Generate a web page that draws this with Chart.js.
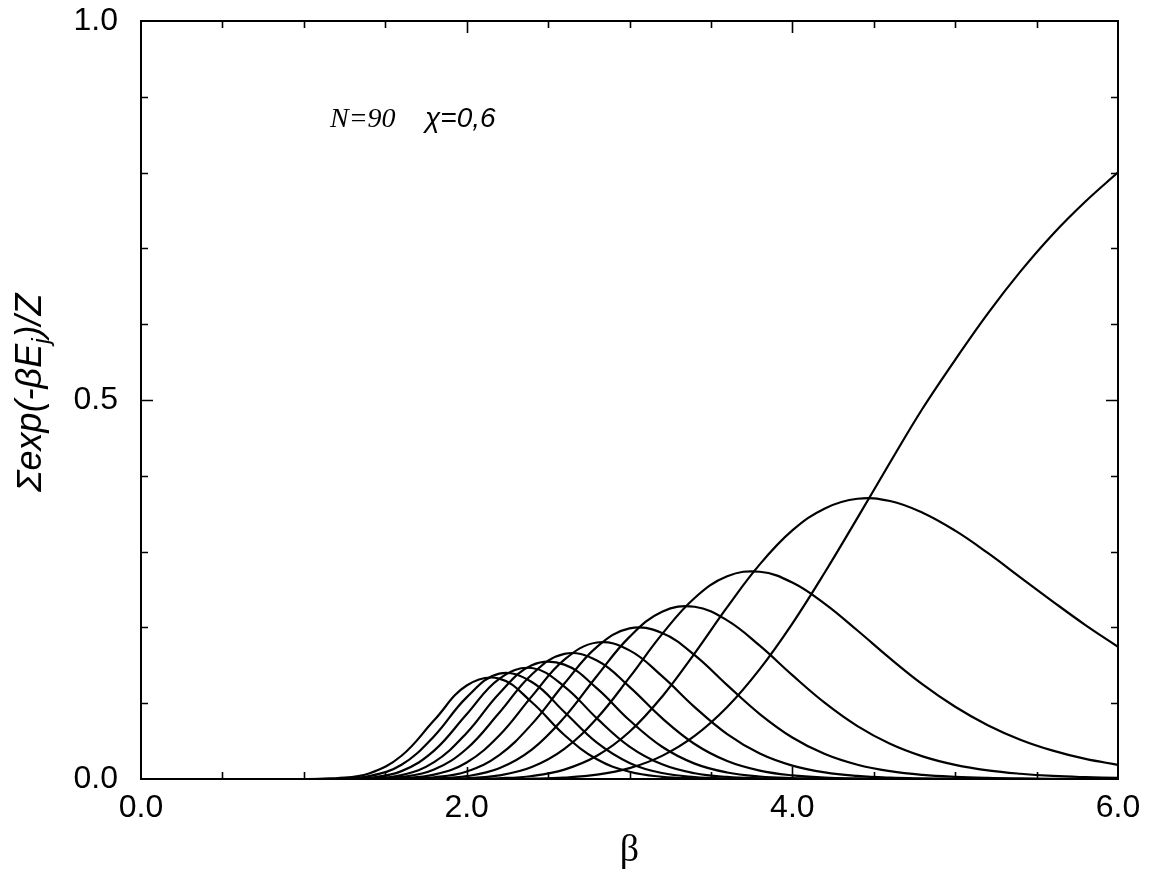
<!DOCTYPE html>
<html>
<head>
<meta charset="utf-8">
<script src="https://cdn.jsdelivr.net/npm/chart.js@4/dist/chart.umd.min.js"></script>
<style>
html,body{margin:0;padding:0;background:#fff;}
canvas{display:block;}
</style>
</head>
<body>
<canvas id="c" width="1149" height="882"></canvas>
<script>
// beta grid (x values)
const beta = [0, 1.0, 1.2, 1.4, 1.6, 1.8, 2.0, 2.2, 2.4, 2.6, 2.8, 3.0, 3.2, 3.4, 3.6, 3.8, 4.0, 4.2, 4.4, 4.6, 4.8, 5.0, 5.2, 5.4, 5.6, 5.8, 6.0];

// Sum exp(-beta E_j)/Z for each level j
const level10 = [0, 0, 0.0010, 0.0072, 0.0307, 0.0774, 0.1233, 0.1325, 0.1013, 0.0581, 0.0260, 0.0095, 0.0029, 0.0008, 0.0002, 0, 0, 0, 0, 0, 0, 0, 0, 0, 0, 0, 0];
const level9  = [0, 0, 0.0004, 0.0037, 0.0188, 0.0565, 0.1077, 0.1390, 0.1280, 0.0884, 0.0479, 0.0212, 0.0079, 0.0026, 0.0007, 0.0002, 0, 0, 0, 0, 0, 0, 0, 0, 0, 0, 0];
const level8  = [0, 0, 0.0001, 0.0017, 0.0104, 0.0374, 0.0854, 0.1322, 0.1464, 0.1220, 0.0800, 0.0428, 0.0194, 0.0076, 0.0027, 0.0009, 0.0003, 0, 0, 0, 0, 0, 0, 0, 0, 0, 0];
const level7  = [0, 0, 0, 0.0007, 0.0052, 0.0222, 0.0607, 0.1128, 0.1502, 0.1509, 0.1195, 0.0775, 0.0425, 0.0203, 0.0086, 0.0033, 0.0012, 0.0004, 0, 0, 0, 0, 0, 0, 0, 0, 0];
const level6  = [0, 0, 0, 0.0003, 0.0025, 0.0124, 0.0399, 0.0873, 0.1379, 0.1651, 0.1563, 0.1216, 0.0803, 0.0462, 0.0237, 0.0111, 0.0048, 0.0019, 0.0008, 0.0003, 0, 0, 0, 0, 0, 0, 0];
const level5  = [0, 0, 0, 0.0001, 0.0010, 0.0057, 0.0218, 0.0574, 0.1090, 0.1574, 0.1801, 0.1697, 0.1357, 0.0949, 0.0592, 0.0336, 0.0177, 0.0087, 0.0041, 0.0018, 0.0008, 0.0003, 0, 0, 0, 0, 0];
const level4  = [0, 0, 0, 0, 0.0003, 0.0022, 0.0100, 0.0316, 0.0724, 0.1259, 0.1743, 0.1987, 0.1926, 0.1635, 0.1239, 0.0857, 0.0548, 0.0329, 0.0188, 0.0103, 0.0054, 0.0028, 0.0014, 0.0007, 0.0003, 0.0002, 0.0001];
const level3  = [0, 0, 0, 0, 0.0001, 0.0007, 0.0037, 0.0141, 0.0387, 0.0813, 0.1359, 0.1875, 0.2207, 0.2272, 0.2093, 0.1759, 0.1370, 0.1004, 0.0698, 0.0465, 0.0299, 0.0187, 0.0114, 0.0069, 0.0040, 0.0024, 0.0014];
const level2  = [0, 0, 0, 0, 0, 0.0002, 0.0010, 0.0047, 0.0157, 0.0397, 0.0802, 0.1340, 0.1911, 0.2388, 0.2674, 0.2734, 0.2592, 0.2311, 0.1959, 0.1591, 0.1248, 0.0953, 0.0710, 0.0519, 0.0374, 0.0265, 0.0187];
const level1  = [0, 0, 0, 0, 0, 0, 0.0002, 0.0010, 0.0040, 0.0124, 0.0306, 0.0623, 0.1086, 0.1658, 0.2267, 0.2831, 0.3279, 0.3570, 0.3697, 0.3667, 0.3513, 0.3276, 0.2982, 0.2661, 0.2341, 0.2031, 0.1745];
const level0  = [0, 0, 0, 0, 0, 0, 0, 0.0001, 0.0005, 0.0019, 0.0057, 0.0143, 0.0305, 0.0568, 0.0949, 0.1449, 0.2050, 0.2727, 0.3445, 0.4175, 0.4888, 0.5530, 0.6140, 0.6693, 0.7187, 0.7618, 0.8003];

// axis ticks
const xLabelTicks = [0, 2, 4, 6];
const xMarkTicks = [0.5, 1, 1.5, 2, 2.5, 3, 3.5, 4, 4.5, 5, 5.5];
const yLabelTicks = [0, 0.5, 1.0];
const yMarkTicks = [0.1, 0.2, 0.3, 0.4, 0.5, 0.6, 0.7, 0.8, 0.9];

// texts
const xTitle = 'β';
const yTitleMain = 'Σexp(-βE';
const yTitleSub = 'j';
const yTitleEnd = ')/Z';
const noteN = 'N=90';
const noteChi = 'χ=0,6';

const levels = [level10, level9, level8, level7, level6, level5, level4, level3, level2, level1, level0];

const datasets = levels.map(vals => ({
  data: vals.map((v, i) => ({x: beta[i], y: v})),
  borderColor: '#000',
  borderWidth: 2.2,
  pointRadius: 0,
  fill: false,
  tension: 0.4
}));

const decorations = {
  id: 'decorations',
  afterDraw(chart) {
    const {ctx, chartArea: a, scales: {x, y}} = chart;
    ctx.save();
    ctx.strokeStyle = '#000';
    ctx.lineWidth = 2;
    ctx.strokeRect(a.left, a.top, a.right - a.left, a.bottom - a.top);
    ctx.lineWidth = 1.6;
    ctx.beginPath();
    xMarkTicks.forEach(v => {
      const px = Math.round(x.getPixelForValue(v)) + 0.5;
      const len = xLabelTicks.includes(v) ? 12 : 7;
      ctx.moveTo(px, a.bottom); ctx.lineTo(px, a.bottom - len);
      ctx.moveTo(px, a.top); ctx.lineTo(px, a.top + len);
    });
    yMarkTicks.forEach(v => {
      const py = Math.round(y.getPixelForValue(v)) + 0.5;
      const len = Math.abs(v - 0.5) < 1e-9 ? 12 : 7;
      ctx.moveTo(a.left, py); ctx.lineTo(a.left + len, py);
      ctx.moveTo(a.right, py); ctx.lineTo(a.right - len, py);
    });
    ctx.stroke();

    // annotation
    ctx.fillStyle = '#000';
    ctx.textBaseline = 'alphabetic';
    ctx.textAlign = 'left';
    ctx.font = 'italic 28px "Liberation Serif", "Times New Roman", serif';
    ctx.fillText(noteN, 330, 127);
    ctx.font = 'italic 28px "Liberation Sans", Arial, sans-serif';
    ctx.fillText(noteChi, 425, 127);

    // y title (rotated, with subscript)
    ctx.translate(41, 492);
    ctx.rotate(-Math.PI / 2);
    ctx.font = 'italic 36px "Liberation Sans", Arial, sans-serif';
    let cx = 0;
    ctx.fillText(yTitleMain, cx, 0);
    cx += ctx.measureText(yTitleMain).width;
    ctx.font = 'italic 24px "Liberation Sans", Arial, sans-serif';
    ctx.fillText(yTitleSub, cx, 8);
    cx += ctx.measureText(yTitleSub).width + 1;
    ctx.font = 'italic 36px "Liberation Sans", Arial, sans-serif';
    ctx.fillText(yTitleEnd, cx, 0);
    ctx.restore();
  }
};

new Chart(document.getElementById('c').getContext('2d'), {
  type: 'line',
  data: {datasets},
  options: {
    responsive: false,
    animation: false,
    devicePixelRatio: 1,
    layout: {padding: {top: 21, right: 31, left: 0, bottom: 0}},
    plugins: {legend: {display: false}, tooltip: {enabled: false}},
    scales: {
      x: {
        type: 'linear', min: 0, max: 6,
        grid: {display: false}, border: {display: false},
        afterBuildTicks(s) { s.ticks = xLabelTicks.map(v => ({value: v})); },
        afterFit(s) { s.height = 103; },
        ticks: {
          padding: 2, autoSkip: false, maxRotation: 0, color: '#000',
          font: {family: '"Liberation Sans", Arial, sans-serif', size: 32},
          callback: v => Number(v).toFixed(1)
        },
        title: {
          display: true, text: xTitle, color: '#000',
          font: {family: '"Liberation Serif", "Times New Roman", serif', size: 38},
          padding: {top: 0, bottom: 8}
        }
      },
      y: {
        type: 'linear', min: 0, max: 1,
        grid: {display: false}, border: {display: false},
        afterBuildTicks(s) { s.ticks = yLabelTicks.map(v => ({value: v})); },
        afterFit(s) { s.width = 141; },
        ticks: {
          padding: 15, color: '#000',
          font: {family: '"Liberation Sans", Arial, sans-serif', size: 32, lineHeight: 0.3},
          callback: v => Number(v).toFixed(1)
        }
      }
    }
  },
  plugins: [decorations]
});
</script>
</body>
</html>
